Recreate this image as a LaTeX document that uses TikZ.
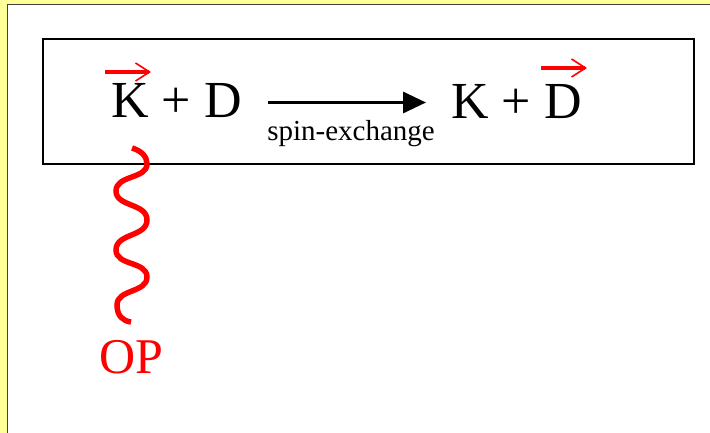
\documentclass[tikz,border=0pt]{standalone}
\usepackage{fontspec}
\setmainfont{Liberation Serif}
\usetikzlibrary{arrows.meta}
\definecolor{bgyellow}{HTML}{FFFF99}
\definecolor{panelline}{HTML}{404040}
\begin{document}
\begin{tikzpicture}[x=1pt,y=-1pt,
  big/.style={inner sep=0pt,font=\fontsize{52}{60}\selectfont},
  small/.style={inner sep=0pt,font=\fontsize{29}{34}\selectfont},
  vecarrow/.style={draw=red,line width=3.5pt,-{Straight Barb[length=14pt,width=18pt,line width=1.6pt]}},
  wave/.style={draw=red,line width=5.5pt,line cap=butt}]
\useasboundingbox (0,0) rectangle (710,433);
\fill[bgyellow] (0,0) rectangle (710,433);
\fill[white] (7.5,4.5) rectangle (712,435);
\draw[panelline,line width=1.5pt] (7.5,435) -- (7.5,4.5) -- (712,4.5);
\node[draw=black,line width=2.5pt,minimum width=651pt,minimum height=125pt,inner sep=0pt] (box) at (368.5,101.5) {};
\node[big,anchor=base west] (lhs) at (111,118) {K + D};
\node[big,anchor=base east] (rhs) at (582,119) {K + D};
\coordinate (a1) at (268,102.5);
\coordinate (a2) at (426,102.5);
\draw[line width=3.3pt,-{Triangle[length=23pt,width=21pt]}] (a1) -- (a2);
\node[small,anchor=base] (spin) at (351,141) {spin-exchange};
\coordinate (k1) at (105,72);
\coordinate (k2) at (151,72);
\draw[vecarrow] (k1) -- (k2);
\coordinate (d1) at (541,68);
\coordinate (d2) at (587,68);
\draw[vecarrow] (d1) -- (d2);
\coordinate (w0) at (132,148);
\coordinate (w1) at (131,322);
\draw[wave] (w0) .. controls (142,151) and (147,157) .. (147,164)
  .. controls (147,179) and (116,175) .. (116,191)
  .. controls (116,207) and (147,203) .. (147,220)
  .. controls (147,237) and (116,233) .. (116,250)
  .. controls (116,266) and (147,261) .. (147,277)
  .. controls (147,293) and (117,289) .. (117,305)
  .. controls (117,316) and (123,321) .. (w1);
\node[big,text=red,anchor=base,font=\fontsize{50}{58}\selectfont] (op) at (131.5,373) {OP};
\end{tikzpicture}
\end{document}
